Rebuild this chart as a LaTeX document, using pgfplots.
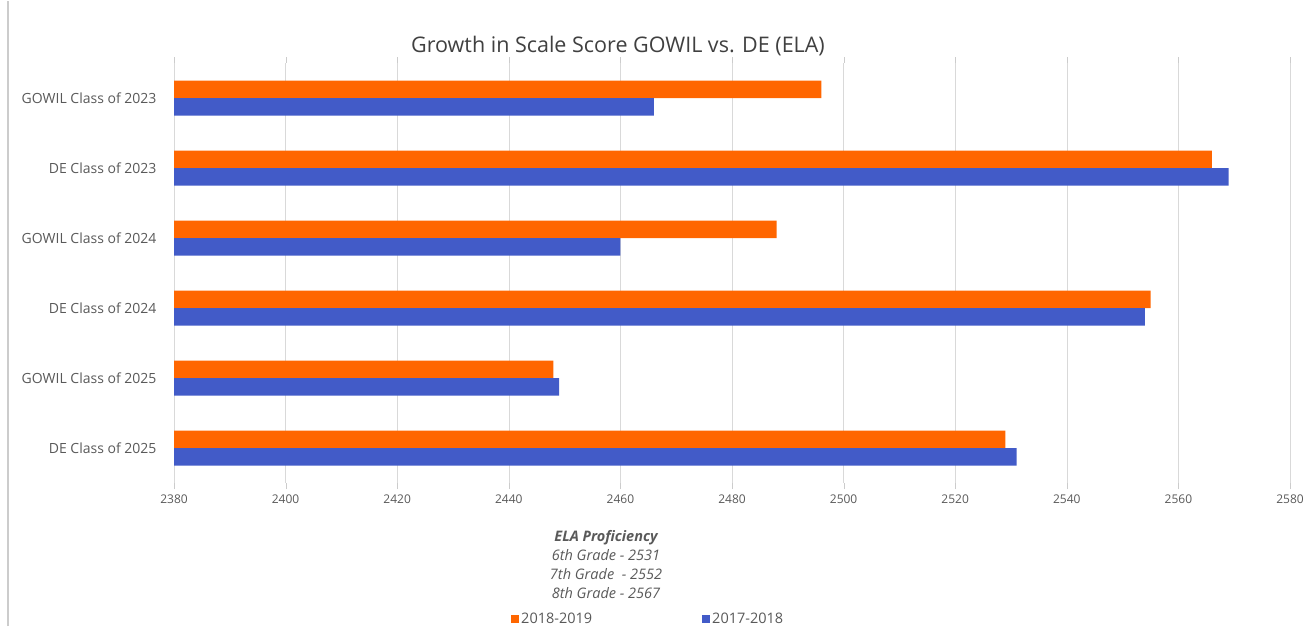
\documentclass[border=0pt]{standalone}
\usepackage{pgfplots}
\pgfplotsset{compat=1.18}
\usepackage{fontspec}
\setmainfont{Open Sans}
\definecolor{orng}{RGB}{255,102,0}
\definecolor{blu}{RGB}{66,91,200}
\definecolor{txt}{RGB}{89,89,89}
\definecolor{ttl}{RGB}{64,64,64}
\begin{document}
\begin{tikzpicture}[x=1pt,y=1pt]
\path (0,0) rectangle (1308,625);
\draw[black!20, line width=2pt] (8,0)--(8,625);
\begin{axis}[at={(174pt,143pt)}, anchor=south west, scale only axis,
  width=1116pt, height=420pt,
  xbar, y dir=reverse,
  xmin=2380, xmax=2580, xtick={2380,2400,...,2580},
  ymin=-0.5, ymax=5.5, ytick={0,...,5},
  yticklabels={GOWIL Class of 2023, DE Class of 2023, GOWIL Class of 2024, DE Class of 2024, GOWIL Class of 2025, DE Class of 2025},
  axis line style={draw=none},
  xmajorgrids, major grid style={black!15},
  tick align=outside, ytick style={draw=none}, xtick style={black!20},
  major tick length=6pt,
  bar width=17.5pt,
  /pgf/number format/1000 sep={},
  /pgf/number format/assume math mode=true,
  xticklabel style={font=\fontsize{12}{14}\selectfont, text=txt, yshift=-2pt},
  yticklabel style={font=\fontsize{14}{15}\selectfont, text=txt, xshift=-8pt},
  legend style={at={(0.2993,-0.324)}, anchor=west, draw=none, legend columns=2,
    font=\fontsize{14.5}{16}\selectfont, text=txt, /tikz/every even column/.append style={column sep=108pt}},
  legend image code/.code={\fill[#1,draw=none] (0pt,-3.5pt) rectangle (8pt,4pt);},
]
\addplot[fill=orng, draw=none, bar shift=8.75pt] coordinates {
(2496,0) (2566,1) (2488,2) (2555,3) (2448,4) (2529,5)};
\addplot[fill=blu, draw=none, bar shift=-8.75pt] coordinates {
(2466,0) (2569,1) (2460,2) (2554,3) (2449,4) (2531,5)};
\legend{2018-2019, 2017-2018}
\end{axis}
\node[text=ttl, font=\fontsize{21.5}{24}\selectfont] at (618,580) {Growth in Scale Score GOWIL vs. DE (ELA)};
\node[text=txt, align=center, font=\fontsize{14.5}{19}\selectfont\itshape] at (606,61.5)
 {\textbf{ELA Proficiency}\\6th Grade - 2531\\7th Grade \ - 2552\\8th Grade - 2567};
\end{tikzpicture}
\end{document}
